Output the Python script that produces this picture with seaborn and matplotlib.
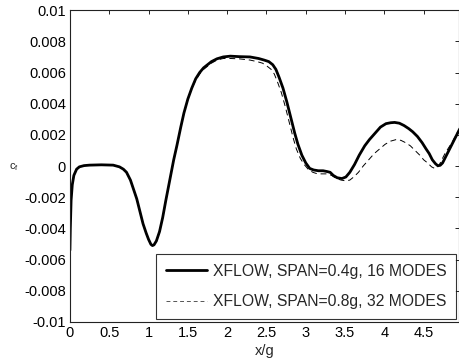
import numpy as np
import pandas as pd
import matplotlib
matplotlib.use("Agg")
import matplotlib.pyplot as plt
import seaborn as sns

# Series 1: XFLOW, SPAN=0.4g, 16 MODES (solid)
x1 = [0.0, 0.0, 0.005, 0.015, 0.03, 0.05, 0.085, 0.12, 0.18, 0.25, 0.4, 0.55, 0.63, 0.68, 0.72, 0.77, 0.81,
      0.85, 0.89, 0.93, 0.97, 1.0, 1.03, 1.05, 1.07, 1.1, 1.14, 1.18, 1.22, 1.27, 1.32, 1.36, 1.41, 1.45,
      1.5, 1.55, 1.6, 1.65, 1.7, 1.75, 1.8, 1.87, 1.95, 2.04, 2.15, 2.29, 2.4, 2.47, 2.53, 2.58, 2.62,
      2.66, 2.71, 2.76, 2.81, 2.86, 2.9, 2.95, 3.0, 3.05, 3.1, 3.16, 3.22, 3.27, 3.31, 3.35, 3.4, 3.46,
      3.51, 3.56, 3.62, 3.68, 3.75, 3.81, 3.88, 3.95, 4.02, 4.08, 4.13, 4.19, 4.25, 4.31, 4.36, 4.42,
      4.48, 4.53, 4.57, 4.61, 4.65, 4.68, 4.71, 4.74, 4.78, 4.82, 4.87, 4.91, 4.96]
y1 = [-0.0054, -0.0054, -0.0040, -0.0022, -0.0012, -0.0006, -0.0002, -0.00005, 0.00003, 0.00006, 0.00008,
      0.00006, -0.00005, -0.0002, -0.0004, -0.0009, -0.0015, -0.0021, -0.0029, -0.0037, -0.0043, -0.0047,
      -0.00502, -0.0051, -0.00505, -0.0048, -0.0042, -0.0033, -0.0022, -0.0009, 0.0004, 0.0013, 0.0025,
      0.0034, 0.0043, 0.0050, 0.0056, 0.0060, 0.0063, 0.0065, 0.0067, 0.00688, 0.00700, 0.00705, 0.00702,
      0.0070, 0.0069, 0.0068, 0.0067, 0.0065, 0.0062, 0.0057, 0.0050, 0.0041, 0.0031, 0.0021, 0.0014,
      0.0007, 0.0002, -0.00015, -0.00025, -0.0003, -0.0003, -0.00035, -0.0004, -0.0006, -0.00075, -0.0008,
      -0.0007, -0.0004, 0.0001, 0.0007, 0.0013, 0.0017, 0.0021, 0.0025, 0.00272, 0.00278, 0.0028, 0.00275,
      0.0026, 0.0024, 0.0022, 0.0019, 0.0015, 0.0011, 0.0008, 0.0004, 0.00015, 0.00002, 0.00005, 0.0002,
      0.0006, 0.0010, 0.0015, 0.0019, 0.0024]

# Series 2: XFLOW, SPAN=0.8g, 32 MODES (dashed)
x2 = [0.0, 0.0, 0.005, 0.015, 0.03, 0.05, 0.085, 0.12, 0.18, 0.25, 0.4, 0.55, 0.63, 0.68, 0.72, 0.77, 0.81,
      0.85, 0.89, 0.93, 0.97, 1.0, 1.03, 1.05, 1.07, 1.1, 1.14, 1.18, 1.22, 1.27, 1.32, 1.36, 1.41, 1.45,
      1.5, 1.55, 1.6, 1.65, 1.7, 1.75, 1.8, 1.87, 1.95, 2.04, 2.15, 2.29, 2.38, 2.45, 2.51, 2.56, 2.6,
      2.64, 2.69, 2.74, 2.79, 2.84, 2.88, 2.93, 2.98, 3.03, 3.09, 3.15, 3.21, 3.27, 3.33, 3.39, 3.45, 3.51,
      3.56, 3.61, 3.67, 3.73, 3.8, 3.87, 3.94, 4.01, 4.08, 4.15, 4.21, 4.27, 4.33, 4.39, 4.45, 4.5, 4.55,
      4.6, 4.64, 4.67, 4.7, 4.73, 4.77, 4.82, 4.87, 4.91, 4.96]
y2 = [-0.0054, -0.0054, -0.0040, -0.0022, -0.0012, -0.0006, -0.0002, -0.00005, 0.00003, 0.00006, 0.00008,
      0.00006, -0.00005, -0.0002, -0.0004, -0.0009, -0.0015, -0.0021, -0.0029, -0.0037, -0.0043, -0.0047,
      -0.00502, -0.0051, -0.00505, -0.0048, -0.0042, -0.0033, -0.0022, -0.0009, 0.0004, 0.0013, 0.0025,
      0.0034, 0.0043, 0.0050, 0.0055, 0.0059, 0.0062, 0.0064, 0.0066, 0.0068, 0.0069, 0.0069, 0.00688,
      0.0068, 0.0067, 0.0066, 0.0064, 0.0062, 0.0059, 0.0054, 0.0047, 0.0038, 0.0028, 0.0018, 0.0011,
      0.0005, 0.0001, -0.0002, -0.0004, -0.0005, -0.0005, -0.0005, -0.0006, -0.0008, -0.0009, -0.00095,
      -0.0009, -0.0007, -0.0004, 0.0000, 0.0004, 0.0008, 0.0011, 0.0014, 0.0016, 0.0017, 0.00165, 0.0015,
      0.0013, 0.0010, 0.0007, 0.0004, 0.0002, -0.00005, -0.00015, -0.0001, 0.0001, 0.0004, 0.0008, 0.0012,
      0.0016, 0.0020, 0.0024]

labels = ["XFLOW, SPAN=0.4g, 16 MODES", "XFLOW, SPAN=0.8g, 32 MODES"]
xticks = [0, 0.5, 1, 1.5, 2, 2.5, 3, 3.5, 4, 4.5]
yticks = [-0.01, -0.008, -0.006, -0.004, -0.002, 0, 0.002, 0.004, 0.006, 0.008, 0.01]
ytick_labels = ["-0.01", "-0.008", "-0.006", "-0.004", "-0.002", "0", "0.002", "0.004", "0.006", "0.008", "0.01"]
xtick_labels = ["0", "0.5", "1", "1.5", "2", "2.5", "3", "3.5", "4", "4.5"]

sns.set_style("white")
plt.rcParams['font.family'] = ['Liberation Sans', 'DejaVu Sans']
plt.rcParams['mathtext.fontset'] = 'custom'
plt.rcParams['mathtext.rm'] = 'Liberation Sans'
plt.rcParams['mathtext.it'] = 'Liberation Sans'
plt.rcParams['axes.unicode_minus'] = False

fig = plt.figure(figsize=(4.6, 3.63), dpi=100)
ax = fig.add_axes([0.152, 0.113, 0.846, 0.859])

df1 = pd.DataFrame({"x": x1, "y": y1})
df2 = pd.DataFrame({"x": x2, "y": y2})
sns.lineplot(data=df1, x="x", y="y", ax=ax, color="black", linewidth=2.0, sort=False,
             estimator=None, label=labels[0])
sns.lineplot(data=df2, x="x", y="y", ax=ax, color="black", linewidth=0.7, sort=False,
             estimator=None, label=labels[1])
ax.lines[1].set_linestyle((0, (6, 4)))

ax.set_xlim(0, 4.95)
ax.set_ylim(-0.01, 0.01)
ax.set_xticks(xticks)
ax.set_xticklabels(xtick_labels)
ax.set_yticks(yticks)
ax.set_yticklabels(ytick_labels)
ax.tick_params(direction="in", length=3, width=0.6, top=True, right=True, labelsize=10.5,
               colors="black", pad=3)
for s in ax.spines.values():
    s.set_linewidth(0.8)
    s.set_color("#222222")
ax.set_xlabel("x/g", fontsize=10.5, labelpad=3)
ax.set_ylabel("")
fig.text(14 / 460, 1 - 167 / 363, r"$\mathrm{c_f}$", fontsize=8, ha="center", va="center")

leg = ax.legend(loc="lower right", fontsize=11.3, frameon=True, fancybox=False, edgecolor="black",
                handlelength=2.6, handletextpad=0.4, borderpad=0.6, labelspacing=1.0,
                borderaxespad=0.2, bbox_to_anchor=(1.0, 0.0))
leg.get_frame().set_linewidth(0.8)
leg.get_lines()[1].set_color("#555555")
leg.get_lines()[1].set_linestyle((0, (4, 3)))

fig.savefig("out.png", dpi=100)
